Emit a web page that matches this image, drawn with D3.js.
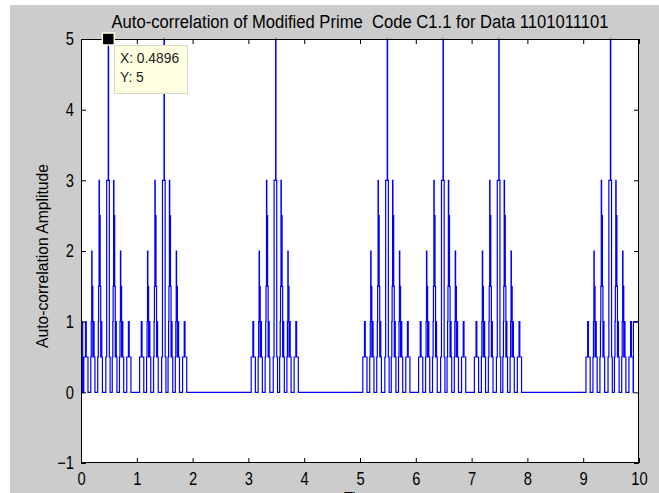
<!DOCTYPE html>
<html>
<head>
<meta charset="utf-8">
<script src="https://cdn.jsdelivr.net/npm/d3@7"></script>
<style>
  body { margin: 0; background: #fff; }
  text { font-family: Arial, "Liberation Sans", Helvetica, sans-serif; white-space: pre; }
</style>
</head>
<body>
<div id="chart"></div>
<script>
// data bits from the title, one bit per unit of time
const dataBits = [1, 1, 0, 1, 0, 1, 1, 1, 0, 1]

// groups of spikes inside one bit period (offset from bit start, max level)
const groupOffsets = [0.09, 0.22, 0.35, 0.49, 0.61, 0.735, 0.86]
const groupPeaks = [1, 2, 3, 5, 3, 2, 1]

// step shapes of one group: [offset from group centre, level]
const shapeLevel1 = [[-0.04, 0.5], [-0.01, 1], [0.004, 0.5], [0.035, 0]]
const shapeLevel2 = [[-0.045, 0.5], [-0.036, 1], [-0.028, 2], [-0.022, 1.5], [-0.008, 0.5], [0.006, 1], [0.014, 0.5], [0.03, 0]]
const shapeLevel3 = [[-0.05, 0.5], [-0.04, 1], [-0.034, 1.5], [-0.026, 3], [-0.02, 2.5], [-0.006, 1.5], [0.004, 0.5], [0.014, 1], [0.022, 0.5], [0.034, 0]]
const shapeLevel5 = [[-0.045, 0.5], [-0.03, 3], [-0.002, 5], [0.004, 3], [0.018, 0.5], [0.032, 0]]

// wrap-around pieces at both ends of the record
const startSteps = [[0, 1], [0.03, 0]]
const endSteps = [[9.9, 1], [10, 1]]

const xTicks = d3.range(0, 11)
const yTicks = d3.range(-1, 6)

const tip = {x: 0.4896, y: 5}

const shapes = {1: shapeLevel1, 2: shapeLevel2, 3: shapeLevel3, 5: shapeLevel5}

const canvasWidth = 659
const canvasHeight = 493
const margins = {top: 39, right: 20, bottom: 30, left: 81}
const width = 639 - margins.left
const height = 463 - margins.top
const squeeze = 0.82

const xScale = d3.scaleLinear().domain([0, 10]).range([0, width])
const yScale = d3.scaleLinear().domain([-1, 5]).range([height, 0])

// build the stair points
let points = startSteps.slice()
dataBits.forEach((b, i) => {
  if (!b) return
  groupOffsets.forEach((off, g) => {
    shapes[groupPeaks[g]].forEach(([dx, lvl]) => points.push([i + off + dx, lvl]))
  })
})
points = points.concat(endSteps).sort((a, b) => a[0] - b[0])

const root = d3.select('#chart')
  .append('svg')
  .attr('width', canvasWidth)
  .attr('height', canvasHeight)

root.append('rect')
  .attr('x', 10).attr('y', 5)
  .attr('width', canvasWidth - 10).attr('height', canvasHeight - 5)
  .attr('fill', '#cccccc')

const svg = root.append('g')
  .attr('transform', `translate(${margins.left}, ${margins.top})`)

svg.append('rect')
  .attr('width', width).attr('height', height)
  .attr('fill', '#fff')

svg.append('defs').append('clipPath').attr('id', 'plotclip')
  .append('rect').attr('x', -1).attr('y', -1).attr('width', width + 2).attr('height', height + 2)

const line = d3.line()
  .x(d => xScale(d[0]))
  .y(d => yScale(d[1]))
  .curve(d3.curveStepAfter)

svg.append('path')
  .datum(points)
  .attr('clip-path', 'url(#plotclip)')
  .attr('fill', 'none')
  .attr('stroke', '#0000ff')
  .attr('stroke-width', 1.2)
  .attr('d', line)

const styleAxis = g => {
  g.select('.domain').remove()
  g.selectAll('line').attr('stroke', '#000')
  g.selectAll('text').attr('fill', '#000').attr('font-size', '18px')
}

svg.append('g')
  .attr('transform', `translate(0, ${height})`)
  .call(d3.axisBottom(xScale).tickValues(xTicks).tickFormat(d3.format('d'))
    .tickSizeInner(-5).tickSizeOuter(0).tickPadding(9))
  .call(styleAxis)
  .call(g => g.selectAll('text').attr('transform', `scale(${squeeze},1)`))

svg.append('g')
  .call(d3.axisTop(xScale).tickValues(xTicks).tickSizeInner(-5).tickSizeOuter(0).tickFormat(''))
  .call(styleAxis)

svg.append('g')
  .call(d3.axisLeft(yScale).tickValues(yTicks).tickFormat(d3.format('d'))
    .tickSizeInner(-5).tickSizeOuter(0).tickPadding(0))
  .call(styleAxis)
  .call(g => g.selectAll('text').attr('x', -7 / squeeze).attr('transform', `scale(${squeeze},1)`))

svg.append('g')
  .attr('transform', `translate(${width}, 0)`)
  .call(d3.axisRight(yScale).tickValues(yTicks).tickSizeInner(-5).tickSizeOuter(0).tickFormat(''))
  .call(styleAxis)

svg.append('rect')
  .attr('x', 0.5).attr('y', 0.5)
  .attr('width', width - 1).attr('height', height - 1)
  .attr('fill', 'none')
  .attr('stroke', '#000')
  .attr('stroke-width', 1)

// title and labels
root.append('text')
  .attr('x', 360).attr('y', 28)
  .attr('text-anchor', 'middle')
  .attr('font-size', '18px')
  .attr('textLength', 497)
  .attr('lengthAdjust', 'spacingAndGlyphs')
  .attr('fill', '#000')
  .text('Auto-correlation of Modified Prime  Code C1.1 for Data 1101011101')

root.append('text')
  .attr('transform', 'translate(42, 256) rotate(-90)')
  .attr('text-anchor', 'middle')
  .attr('dy', '0.35em')
  .attr('font-size', '16px')
  .attr('textLength', 184)
  .attr('lengthAdjust', 'spacingAndGlyphs')
  .attr('fill', '#000')
  .text('Auto-correlation Amplitude')

root.append('text')
  .attr('transform', `translate(360, 505) scale(${squeeze}, 1)`)
  .attr('text-anchor', 'middle')
  .attr('font-size', '18px')
  .attr('fill', '#000')
  .text('Time')

// data tip
const tx = margins.left + xScale(tip.x)
const ty = margins.top + yScale(tip.y)

const tipBox = root.append('g')
tipBox.append('rect')
  .attr('x', 114.5).attr('y', 45.5)
  .attr('width', 73).attr('height', 48)
  .attr('fill', '#ffffe1')
  .attr('stroke', '#d8d8c8')
tipBox.append('text')
  .attr('transform', 'translate(120, 63) scale(0.92, 1)')
  .attr('font-size', '15px')
  .attr('fill', '#222')
  .text(`X: ${tip.x}`)
tipBox.append('text')
  .attr('transform', 'translate(120, 82) scale(0.92, 1)')
  .attr('font-size', '15px')
  .attr('fill', '#222')
  .text(`Y: ${tip.y}`)

root.append('rect')
  .attr('x', tx - 6).attr('y', ty - 6)
  .attr('width', 12).attr('height', 12)
  .attr('fill', '#000')
  .attr('stroke', '#ffffe1')
  .attr('stroke-width', 1.5)
</script>
</body>
</html>
